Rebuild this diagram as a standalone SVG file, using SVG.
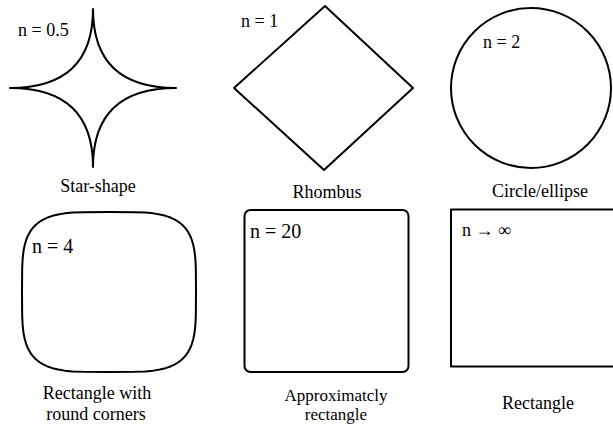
<svg xmlns="http://www.w3.org/2000/svg" width="613" height="425" viewBox="0 0 613 425">
<style>
.s{fill:none;stroke:#000;stroke-width:2;stroke-linejoin:round}
.lb{font-size:18px;text-anchor:middle}
.lb2{font-size:17px;text-anchor:middle}
.n{font-size:18px}
.n2{font-size:20px}
</style>
<rect width="613" height="425" fill="#fff"/>
<g font-family="Liberation Serif, Times New Roman, Times, Noto Serif, DejaVu Serif, serif" fill="#000">
<g id="star">
<path class="s" d="M10 88 Q93 88 93 9 Q93 88 176 88 Q93 88 93 167 Q93 88 10 88 Z"/>
<text class="n" x="18" y="36">n = 0.5</text>
<text class="lb" x="98" y="192">Star-shape</text>
</g>
<g id="rhombus">
<path class="s" d="M325 6 L413 88 L324 170 L234 88 Z"/>
<text class="n" x="241" y="27">n = 1</text>
<text class="lb" x="327" y="198">Rhombus</text>
</g>
<g id="circle">
<circle class="s" cx="531" cy="88" r="80"/>
<text class="n" x="483" y="48">n = 2</text>
<text class="lb" x="540" y="197">Circle/ellipse</text>
</g>
<g id="rounded">
<path class="s" d="M196 292 L195.83 268.38 L195.34 258.66 L194.51 251.3 L193.34 245.21 L191.82 239.99 L189.96 235.43 L187.74 231.41 L185.15 227.86 L182.16 224.73 L178.75 221.98 L174.89 219.59 L170.52 217.55 L165.56 215.84 L159.88 214.45 L153.26 213.37 L145.25 212.61 L134.69 212.15 L109 212 L83.31 212.15 L72.75 212.61 L64.74 213.37 L58.12 214.45 L52.44 215.84 L47.48 217.55 L43.11 219.59 L39.25 221.98 L35.84 224.73 L32.85 227.86 L30.26 231.41 L28.04 235.43 L26.18 239.99 L24.66 245.21 L23.49 251.3 L22.66 258.66 L22.17 268.38 L22 292 L22.17 315.62 L22.66 325.34 L23.49 332.7 L24.66 338.79 L26.18 344.01 L28.04 348.57 L30.26 352.59 L32.85 356.14 L35.84 359.27 L39.25 362.02 L43.11 364.41 L47.48 366.45 L52.44 368.16 L58.12 369.55 L64.74 370.63 L72.75 371.39 L83.31 371.85 L109 372 L134.69 371.85 L145.25 371.39 L153.26 370.63 L159.88 369.55 L165.56 368.16 L170.52 366.45 L174.89 364.41 L178.75 362.02 L182.16 359.27 L185.15 356.14 L187.74 352.59 L189.96 348.57 L191.82 344.01 L193.34 338.79 L194.51 332.7 L195.34 325.34 L195.83 315.62 Z"/>
<text class="n2" x="32" y="253">n = 4</text>
<text class="lb" x="97" y="399">Rectangle with</text>
<text class="lb" x="96" y="420">round corners</text>
</g>
<g id="approx">
<rect class="s" x="244.5" y="210" width="164" height="162" rx="6"/>
<text class="n2" x="250" y="238">n = 20</text>
<text class="lb2" x="336" y="401">Approximatcly</text>
<text class="lb2" x="336" y="420">rectangle</text>
</g>
<g id="rect">
<rect class="s" x="451" y="209.5" width="180" height="157" stroke-width="2.5"/>
<text class="n" x="462" y="236">n → ∞</text>
<text class="lb" x="538" y="409">Rectangle</text>
</g>
</g>
<g id="connectors"></g>
</svg>
